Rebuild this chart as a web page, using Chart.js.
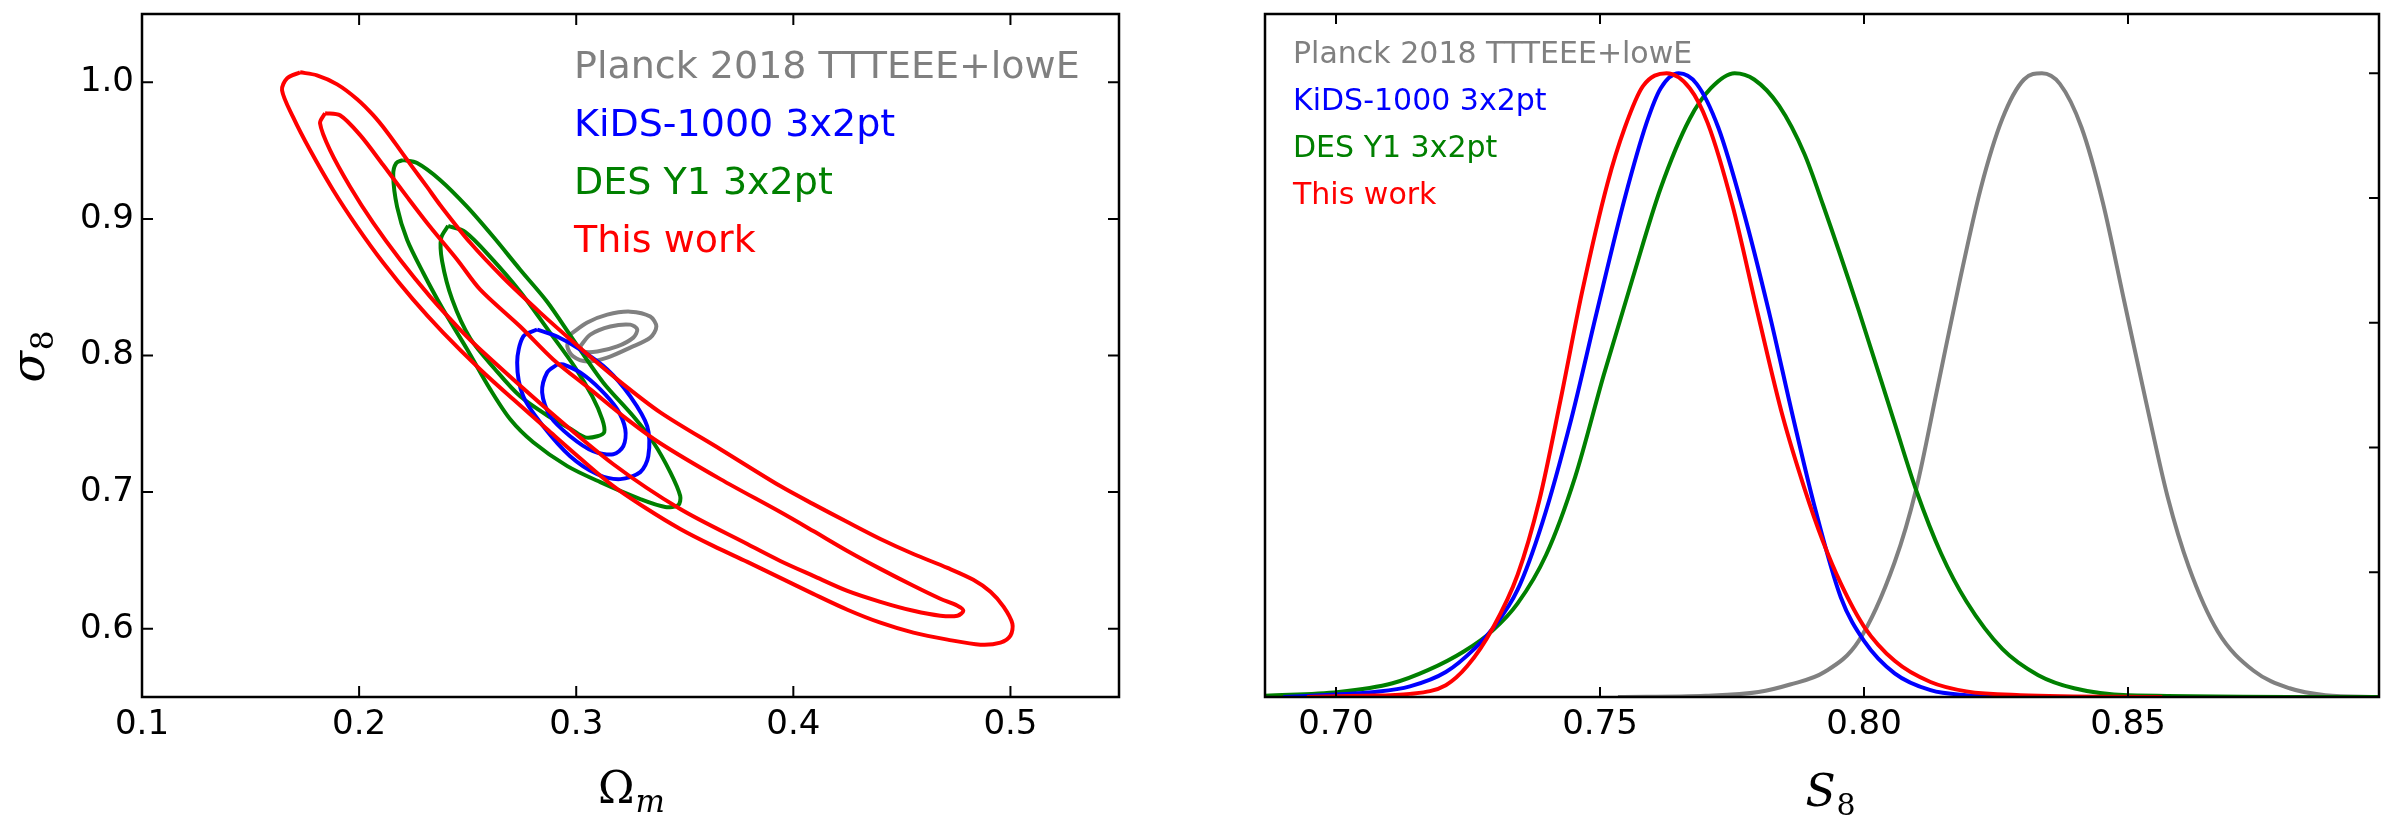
<!DOCTYPE html>
<html>
<head>
<meta charset="utf-8">
<script src="https://cdn.jsdelivr.net/npm/chart.js@4.4.0/dist/chart.umd.min.js"></script>
<style>
  html, body { margin: 0; padding: 0; background: #fff; }
  body { width: 2383px; height: 817px; position: relative; overflow: hidden; }
  canvas { position: absolute; top: 0; }
  #contourChart { left: 0; }
  #s8Chart { left: 1190px; }
</style>
</head>
<body>
<canvas id="contourChart" width="1190" height="817"></canvas>
<canvas id="s8Chart" width="1193" height="817"></canvas>
<script>
// Left panel: contour lines as [Omega_m, sigma_8]
const thisWorkOuter = [[0.1728, 1.0073], [0.1806, 1.0051], [0.1899, 0.9985], [0.1991, 0.9876], [0.2065, 0.9759],
  [0.2129, 0.9635], [0.2189, 0.9504], [0.2249, 0.9372], [0.2313, 0.9234], [0.2373, 0.9102], [0.2512, 0.8825],
  [0.2664, 0.8569], [0.2834, 0.8314], [0.3005, 0.8073], [0.3189, 0.7825], [0.3387, 0.7584], [0.3664, 0.7314],
  [0.3940, 0.7044], [0.4092, 0.6912], [0.4249, 0.6781], [0.4401, 0.6657], [0.4553, 0.6547], [0.4710, 0.6445],
  [0.4829, 0.6358], [0.4908, 0.6270], [0.4968, 0.6161], [0.5009, 0.6036], [0.5000, 0.5949], [0.4954, 0.5898],
  [0.4862, 0.5883], [0.4710, 0.5920], [0.4553, 0.5971], [0.4401, 0.6044], [0.4249, 0.6139], [0.4092, 0.6255],
  [0.3940, 0.6372], [0.3788, 0.6489], [0.3631, 0.6606], [0.3479, 0.6730], [0.3327, 0.6876], [0.3171, 0.7044],
  [0.3018, 0.7248], [0.2866, 0.7460], [0.2710, 0.7679], [0.2558, 0.7898], [0.2387, 0.8168], [0.2249, 0.8409],
  [0.2111, 0.8679], [0.1991, 0.8942], [0.1880, 0.9212], [0.1774, 0.9504], [0.1696, 0.9745], [0.1645, 0.9942],
  [0.1668, 1.0029]];
const thisWorkInner = [[0.1843, 0.9774], [0.1912, 0.9759], [0.2005, 0.9613], [0.2111, 0.9394], [0.2221, 0.9161],
  [0.2327, 0.8942], [0.2452, 0.8701], [0.2558, 0.8482], [0.2742, 0.8212], [0.2894, 0.7971], [0.3065, 0.7752],
  [0.3235, 0.7533], [0.3387, 0.7358], [0.3664, 0.7095], [0.3940, 0.6854], [0.4092, 0.6715], [0.4249, 0.6569],
  [0.4401, 0.6438], [0.4553, 0.6314], [0.4677, 0.6219], [0.4756, 0.6168], [0.4783, 0.6131], [0.4756, 0.6095],
  [0.4677, 0.6095], [0.4553, 0.6131], [0.4401, 0.6197], [0.4249, 0.6277], [0.4092, 0.6387], [0.3940, 0.6496],
  [0.3788, 0.6620], [0.3479, 0.6876], [0.3171, 0.7204], [0.2866, 0.7606], [0.2558, 0.8044], [0.2465, 0.8190],
  [0.2327, 0.8431], [0.2189, 0.8701], [0.2065, 0.8971], [0.1959, 0.9234], [0.1866, 0.9504], [0.1820, 0.9701]];
const desOuter = [[0.2203, 0.9431], [0.2267, 0.9409], [0.2373, 0.9285], [0.2498, 0.9088], [0.2618, 0.8869],
  [0.2742, 0.8628], [0.2866, 0.8394], [0.2986, 0.8117], [0.3124, 0.7803], [0.3263, 0.7555], [0.3355, 0.7365],
  [0.3433, 0.7146], [0.3479, 0.6971], [0.3470, 0.6905], [0.3410, 0.6891], [0.3295, 0.6949], [0.3111, 0.7073],
  [0.2959, 0.7190], [0.2802, 0.7365], [0.2696, 0.7533], [0.2604, 0.7752], [0.2498, 0.8044], [0.2387, 0.8336],
  [0.2295, 0.8606], [0.2221, 0.8847], [0.2175, 0.9088], [0.2157, 0.9321], [0.2171, 0.9409]];
const desInner = [[0.2410, 0.8949], [0.2488, 0.8905], [0.2608, 0.8715], [0.2742, 0.8467], [0.2876, 0.8175],
  [0.2995, 0.7912], [0.3074, 0.7701], [0.3120, 0.7533], [0.3129, 0.7438], [0.3097, 0.7409], [0.3041, 0.7401],
  [0.2977, 0.7460], [0.2880, 0.7547], [0.2742, 0.7701], [0.2627, 0.7898], [0.2512, 0.8124], [0.2429, 0.8409],
  [0.2382, 0.8693], [0.2378, 0.8861]];
const kidsOuter = [[0.2820, 0.8190], [0.2912, 0.8139], [0.3018, 0.8044], [0.3143, 0.7898], [0.3249, 0.7701],
  [0.3327, 0.7482], [0.3332, 0.7263], [0.3295, 0.7146], [0.3203, 0.7095], [0.3097, 0.7131], [0.2972, 0.7263],
  [0.2848, 0.7482], [0.2756, 0.7701], [0.2728, 0.7949], [0.2756, 0.8139]];
const kidsInner = [[0.2912, 0.7934], [0.2866, 0.7876], [0.2843, 0.7730], [0.2880, 0.7555], [0.2972, 0.7409],
  [0.3078, 0.7299], [0.3171, 0.7277], [0.3217, 0.7336], [0.3226, 0.7460], [0.3189, 0.7606], [0.3111, 0.7752],
  [0.3018, 0.7876], [0.2940, 0.7934]];
const planckOuter = [[0.2972, 0.8153], [0.3051, 0.8241], [0.3143, 0.8299], [0.3249, 0.8321], [0.3341, 0.8285],
  [0.3369, 0.8212], [0.3341, 0.8131], [0.3249, 0.8058], [0.3143, 0.7985], [0.3051, 0.7956], [0.2986, 0.7993],
  [0.2959, 0.8066]];
const planckInner = [[0.3018, 0.8066], [0.3065, 0.8153], [0.3157, 0.8212], [0.3249, 0.8226], [0.3281, 0.8190],
  [0.3263, 0.8131], [0.3189, 0.8066], [0.3097, 0.8029], [0.3032, 0.8029]];

// Right panel: S_8 marginals, peak normalised to 1
const planckS8 = [0.7534, 0.770, 0.780, 0.786, 0.7925, 0.799, 0.8058, 0.8099, 0.8139, 0.818, 0.8221, 0.8262, 0.8303,
  0.8337, 0.8371, 0.8412, 0.8452, 0.8493, 0.8534, 0.8575, 0.8615, 0.867, 0.8738, 0.8806, 0.8874, 0.8975];
const planckP = [0, 0.002, 0.008, 0.02, 0.04, 0.09, 0.216, 0.334, 0.495, 0.662, 0.815, 0.927, 0.99,
  1.0, 0.983, 0.913, 0.794, 0.634, 0.474, 0.321, 0.209, 0.105, 0.042, 0.014, 0.003, 0];
const kidsS8 = [0.690, 0.700, 0.7073, 0.714, 0.7208, 0.7263, 0.7296, 0.7344, 0.7391, 0.7446, 0.7493, 0.7547, 0.7588,
  0.7615, 0.7649, 0.7683, 0.7724, 0.7771, 0.7819, 0.7866, 0.7905, 0.7956, 0.800, 0.8058, 0.8126, 0.8194, 0.830];
const kidsP = [0, 0.004, 0.008, 0.017, 0.04, 0.078, 0.109, 0.172, 0.28, 0.447, 0.614, 0.80, 0.92,
  0.976, 1.0, 0.983, 0.913, 0.781, 0.621, 0.447, 0.31, 0.16, 0.09, 0.038, 0.011, 0.003, 0];
const desS8 = [0.6866, 0.7005, 0.7107, 0.7174, 0.7242, 0.7296, 0.7344, 0.7398, 0.7453, 0.7507, 0.7561, 0.7615, 0.767,
  0.771, 0.7755, 0.7792, 0.7839, 0.7887, 0.7922, 0.799, 0.8058, 0.8099, 0.8146, 0.8194, 0.8262, 0.833, 0.8398, 0.850, 0.8975];
const desP = [0.002, 0.008, 0.022, 0.043, 0.073, 0.106, 0.150, 0.228, 0.353, 0.516, 0.669, 0.816, 0.927,
  0.976, 1.0, 0.99, 0.948, 0.871, 0.79, 0.62, 0.439, 0.331, 0.23, 0.153, 0.077, 0.035, 0.014, 0.003, 0];
const thisWorkS8 = [0.6945, 0.705, 0.714, 0.7208, 0.7249, 0.7296, 0.7344, 0.7385, 0.7425, 0.7466, 0.7514, 0.7547, 0.7581,
  0.7626, 0.767, 0.7704, 0.7751, 0.7799, 0.7846, 0.7887, 0.7922, 0.7956, 0.800, 0.8058, 0.8126, 0.8194, 0.8296, 0.8565];
const thisWorkP = [0, 0.002, 0.005, 0.019, 0.05, 0.109, 0.196, 0.315, 0.475, 0.649, 0.823, 0.913, 0.979,
  1.0, 0.976, 0.92, 0.788, 0.614, 0.45, 0.335, 0.25, 0.182, 0.113, 0.058, 0.024, 0.009, 0.003, 0];

// Ticks and labels
const omTicks = [0.1, 0.2, 0.3, 0.4, 0.5];
const omTickLabels = ['0.1', '0.2', '0.3', '0.4', '0.5'];
const sigmaTicks = [0.6, 0.7, 0.8, 0.9, 1.0];
const sigmaTickLabels = ['0.6', '0.7', '0.8', '0.9', '1.0'];
const s8Ticks = [0.70, 0.75, 0.80, 0.85];
const s8TickLabels = ['0.70', '0.75', '0.80', '0.85'];
const probTicks = [0.2, 0.4, 0.6, 0.8, 1.0];
const legendNames = ['Planck 2018 TTTEEE+lowE', 'KiDS-1000 3x2pt', 'DES Y1 3x2pt', 'This work'];
const legendColors = ['#808080', '#0000ff', '#008000', '#ff0000'];

Chart.defaults.font.family = '"DejaVu Sans", sans-serif';
Chart.defaults.color = '#000';

// draws a symbol with a subscript, centred on (x, baseline y)
function drawMath(ctx, t) {
  const mainFont = t.mainStyle + ' ' + t.size + 'px "DejaVu Serif"';
  const subFont = t.subStyle + ' ' + t.subSize + 'px "DejaVu Serif"';
  ctx.save();
  ctx.translate(t.x, t.y);
  if (t.rotate) ctx.rotate(-Math.PI / 2);
  ctx.fillStyle = '#000';
  ctx.textAlign = 'left';
  ctx.textBaseline = 'alphabetic';
  ctx.font = mainFont;
  const w1 = ctx.measureText(t.main).width;
  ctx.font = subFont;
  const w2 = ctx.measureText(t.sub).width;
  const x0 = -(w1 + w2) / 2;
  ctx.font = mainFont;
  ctx.fillText(t.main, x0, 0);
  ctx.font = subFont;
  ctx.fillText(t.sub, x0 + w1 + 1, t.drop);
  ctx.restore();
}

// inward ticks, frame, text legend and axis titles
const panelDecor = {
  id: 'panelDecor',
  afterDatasetsDraw(chart, args, o) {
    const ctx = chart.ctx;
    const a = chart.chartArea;
    const xs = chart.scales.x;
    const ys = chart.scales.y;
    ctx.save();
    ctx.strokeStyle = '#000';
    ctx.lineWidth = 2;
    ctx.beginPath();
    o.xTicks.forEach(v => {
      const px = xs.getPixelForValue(v);
      ctx.moveTo(px, a.bottom);
      ctx.lineTo(px, a.bottom - o.tickLen);
      ctx.moveTo(px, a.top);
      ctx.lineTo(px, a.top + o.tickLen);
    });
    o.yTicks.forEach(v => {
      const py = ys.getPixelForValue(v);
      if (o.leftTicks) {
        ctx.moveTo(a.left, py);
        ctx.lineTo(a.left + o.tickLen, py);
      }
      ctx.moveTo(a.right, py);
      ctx.lineTo(a.right - o.tickLen, py);
    });
    ctx.stroke();
    ctx.lineWidth = 2.5;
    ctx.strokeRect(a.left, a.top, a.right - a.left, a.bottom - a.top);

    ctx.textAlign = 'left';
    ctx.textBaseline = 'alphabetic';
    ctx.font = o.legendSize + 'px "DejaVu Sans"';
    legendNames.forEach((name, i) => {
      ctx.fillStyle = legendColors[i];
      ctx.fillText(name, o.legendX, o.legendY + i * o.legendStep);
    });
    ctx.restore();

    o.titles.forEach(t => drawMath(ctx, t));
  }
};

function contour(pts, color, order) {
  return {
    data: pts.concat([pts[0]]),
    showLine: true,
    borderColor: color,
    borderWidth: 4,
    pointRadius: 0,
    tension: 0.3,
    fill: false,
    order: order
  };
}

function marginal(xs, ys, color, order) {
  return {
    data: xs.map((x, i) => ({ x: x, y: ys[i] })),
    showLine: true,
    borderColor: color,
    borderWidth: 4,
    pointRadius: 0,
    cubicInterpolationMode: 'monotone',
    fill: false,
    order: order
  };
}

// keep the plot area exactly where the layout padding puts it
function noPad(s) {
  s.paddingTop = 0;
  s.paddingBottom = 0;
  s.paddingLeft = 0;
  s.paddingRight = 0;
}

const tickFont = { family: '"DejaVu Sans"', size: 34 };

// Omega_m - sigma_8 panel
new Chart(document.getElementById('contourChart'), {
  type: 'scatter',
  data: {
    datasets: [
      contour(planckOuter, '#808080', 3),
      contour(planckInner, '#808080', 3),
      contour(desOuter, '#008000', 2),
      contour(desInner, '#008000', 2),
      contour(kidsOuter, '#0000ff', 1),
      contour(kidsInner, '#0000ff', 1),
      contour(thisWorkOuter, '#ff0000', 0),
      contour(thisWorkInner, '#ff0000', 0)
    ]
  },
  options: {
    responsive: false,
    animation: false,
    devicePixelRatio: 1,
    events: [],
    layout: { padding: { top: 14, right: 71, bottom: 0, left: 0 } },
    scales: {
      x: {
        type: 'linear', min: 0.1, max: 0.55,
        afterBuildTicks: s => { s.ticks = omTicks.map(v => ({ value: v })); },
        afterFit: s => { s.height = 120; noPad(s); },
        ticks: { font: tickFont, color: '#000', padding: 8, autoSkip: false, maxRotation: 0,
          callback: (v, i) => omTickLabels[i] },
        grid: { display: false, drawTicks: false },
        border: { display: false }
      },
      y: {
        type: 'linear', min: 0.55, max: 1.05,
        afterBuildTicks: s => { s.ticks = sigmaTicks.map(v => ({ value: v })); },
        afterFit: s => { s.width = 142; noPad(s); },
        ticks: { font: tickFont, color: '#000', padding: 8, autoSkip: false,
          callback: (v, i) => sigmaTickLabels[i] },
        grid: { display: false, drawTicks: false },
        border: { display: false }
      }
    },
    plugins: {
      legend: { display: false },
      tooltip: { enabled: false },
      panelDecor: {
        xTicks: omTicks, yTicks: sigmaTicks, leftTicks: true, tickLen: 11,
        legendX: 574, legendY: 78, legendStep: 58, legendSize: 38,
        titles: [
          { main: 'Ω', sub: 'm', mainStyle: '', subStyle: 'italic', size: 44, subSize: 31, drop: 9, x: 631, y: 803 },
          { main: 'σ', sub: '8', mainStyle: 'italic', subStyle: '', size: 46, subSize: 31, drop: 9, x: 44, y: 357, rotate: true }
        ]
      }
    }
  },
  plugins: [panelDecor]
});

// S_8 panel
new Chart(document.getElementById('s8Chart'), {
  type: 'scatter',
  data: {
    datasets: [
      marginal(planckS8, planckP, '#808080', 3),
      marginal(desS8, desP, '#008000', 2),
      marginal(kidsS8, kidsP, '#0000ff', 1),
      marginal(thisWorkS8, thisWorkP, '#ff0000', 0)
    ]
  },
  options: {
    responsive: false,
    animation: false,
    devicePixelRatio: 1,
    events: [],
    layout: { padding: { top: 14, right: 4, bottom: 0, left: 75 } },
    scales: {
      x: {
        type: 'linear', min: 0.68655, max: 0.89754,
        afterBuildTicks: s => { s.ticks = s8Ticks.map(v => ({ value: v })); },
        afterFit: s => { s.height = 120; noPad(s); },
        ticks: { font: tickFont, color: '#000', padding: 8, autoSkip: false, maxRotation: 0,
          callback: (v, i) => s8TickLabels[i] },
        grid: { display: false, drawTicks: false },
        border: { display: false }
      },
      y: {
        type: 'linear', min: 0, max: 1.095, display: false
      }
    },
    plugins: {
      legend: { display: false },
      tooltip: { enabled: false },
      panelDecor: {
        xTicks: s8Ticks, yTicks: probTicks, leftTicks: false, tickLen: 10,
        legendX: 103, legendY: 63, legendStep: 47, legendSize: 30,
        titles: [
          { main: 'S', sub: '8', mainStyle: 'italic', subStyle: '', size: 44, subSize: 30, drop: 9, x: 640, y: 806 }
        ]
      }
    }
  },
  plugins: [panelDecor]
});
</script>
</body>
</html>
